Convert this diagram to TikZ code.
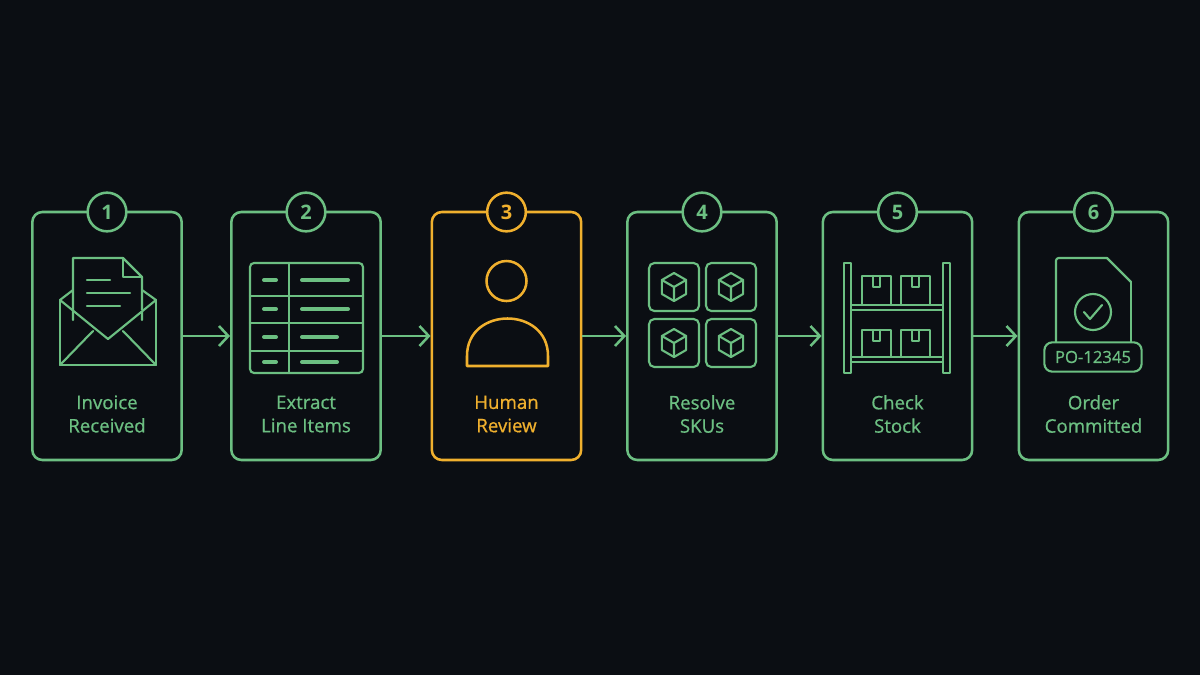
\documentclass[tikz,border=0pt]{standalone}
\usepackage{fontspec}
\setmainfont{Open Sans}
\newfontfamily\med{Open Sans}[FakeBold=0.8]
\usetikzlibrary{arrows.meta}
\definecolor{bg}{HTML}{0B0E13}
\definecolor{gr}{HTML}{6CBF82}
\definecolor{og}{HTML}{F0B02E}
\begin{document}
\begin{tikzpicture}[x=0.75pt,y=-0.75pt,
  card/.style={draw,line width=1.9pt,rounded corners=7.5pt,minimum width=112pt,minimum height=186pt,fill=bg},
  num/.style={draw,circle,line width=1.9pt,fill=bg,minimum size=29pt,inner sep=0pt,font=\fontsize{15}{15}\selectfont\bfseries},
  lbl/.style={align=center,font=\fontsize{14}{17.5}\selectfont\med},
  ic/.style={line width=1.6pt,line cap=round,line join=round},
  arr/.style={gr,line width=1.9pt,-{Straight Barb[length=7pt,width=15pt,line width=1.9pt]}},
  pics/cube/.style={code={
    \draw[ic] (0,-14)--(12.1,-7)--(12.1,7)--(0,14)--(-12.1,7)--(-12.1,-7)--cycle;
    \draw[ic] (-12.1,-7)--(0,0)--(12.1,-7) (0,0)--(0,14);}}]
\fill[bg] (0,0) rectangle (1200,675);
\useasboundingbox (0,0) rectangle (1200,675);
\foreach \i/\x/\c/\t in {1/107/gr/{Invoice\\Received},2/306/gr/{Extract\\Line Items},3/506.5/og/{Human\\Review},4/702/gr/{Resolve\\SKUs},5/897.5/gr/{Check\\Stock},6/1093.5/gr/{Order\\Committed}}{
  \node[card,draw=\c] (c\i) at (\x,336) {};
  \node[num,draw=\c,text=\c] (n\i) at (\x,212) {\i};
  \node[lbl,text=\c] (l\i) at (\x,414) {\t};
}
\foreach \a/\b in {1/2,2/3,3/4,4/5,5/6}{\draw[arr] (c\a.east) -- (c\b.west);}
% card 1 envelope
\begin{scope}[gr,ic]
\draw (60,300)--(60,365)--(156,365)--(156,300);
\draw (60,365)--(93,331) (156,365)--(123,331);
\draw (60,300)--(73,290) (156,300)--(142,290);
\draw[fill=bg] (73,320)--(73,258)--(123,258)--(142,277)--(142,320);
\draw (123,258)--(123,277)--(142,277);
\draw[fill=bg,draw=none] (62,302)--(108,340)--(154,302)--(154,310)--(62,310)--cycle;
\draw (60,300)--(108,339)--(156,300);
\draw (87,280)--(110,280) (87,293)--(130,293) (87,306)--(120,306);
\end{scope}
% card 2 table
\begin{scope}[gr,ic]
\draw[rounded corners=3pt] (250,263) rectangle (363,373);
\draw (289,263)--(289,373) (250,296)--(363,296) (250,323)--(363,323) (250,351)--(363,351);
\foreach \y/\L in {280/348,309/348,337/337,362/337}{\draw[line width=3pt] (264,\y)--(276,\y) (302,\y)--(\L,\y);}
\end{scope}
% card 3 person
\begin{scope}[og,ic,line width=1.9pt]
\draw (506.5,281) circle[radius=15pt];
\draw (467,366)--(467,356) .. controls (467,306) and (548,306) .. (548,356)--(548,366)--cycle;
\end{scope}
% card 4 boxes
\begin{scope}[gr,ic]
\foreach \x in {649,706}\foreach \y in {263,319}{
  \draw[rounded corners=4pt] (\x,\y) rectangle ++(50,48);
  \pic at (\x+25,\y+24) {cube};}
\end{scope}
% card 5 shelf
\begin{scope}[gr,ic]
\draw (844,263) rectangle (851,373) (943,263) rectangle (950,373);
\draw (851,305) rectangle (943,310) (851,357) rectangle (943,362);
\foreach \x in {862,901}{
  \draw (\x,305)--(\x,276)--(\x+29,276)--(\x+29,305);
  \draw (\x+11,276)--(\x+11,287)--(\x+18,287)--(\x+18,276);
  \draw (\x,357)--(\x,330)--(\x+29,330)--(\x+29,357);
  \draw (\x+11,330)--(\x+11,341)--(\x+18,341)--(\x+18,330);}
\end{scope}
% card 6 document
\begin{scope}[gr,ic]
\draw[rounded corners=2pt] (1056,343)--(1056,258)--(1107,258);
\draw (1107,258)--(1131,282);
\draw[rounded corners=2pt] (1131,282)--(1131,343);
\draw (1093,312) circle[radius=13.5pt];
\draw (1084,312)--(1090,319)--(1102,305);
\node[draw,line width=1.6pt,rounded corners=6pt,minimum width=73pt,minimum height=22pt,fill=bg,text=gr,font=\fontsize{12.5}{12.5}\selectfont\med] (po) at (1093,357) {PO-12345};
\end{scope}
\end{tikzpicture}
\end{document}
